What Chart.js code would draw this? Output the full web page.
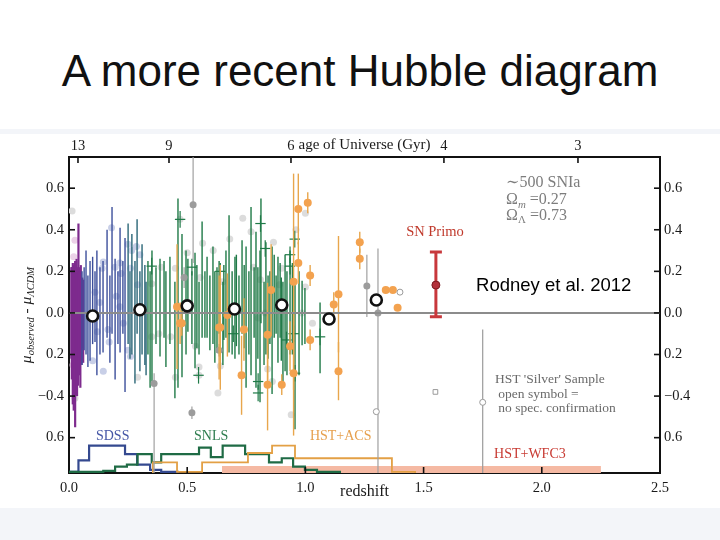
<!DOCTYPE html>
<html><head><meta charset="utf-8">
<script src="https://cdn.jsdelivr.net/npm/chart.js@4.4.1/dist/chart.umd.min.js"></script>
<style>
html,body{margin:0;padding:0;background:#fff;width:720px;height:540px;overflow:hidden;}
#band{position:absolute;left:0;top:129px;width:720px;height:411px;background:#f3f5f9;}
#panel{position:absolute;left:0;top:134px;width:720px;height:374px;background:#fff;}
#title{position:absolute;left:0;top:49px;width:720px;text-align:center;font-family:'Liberation Sans',Arial,sans-serif;font-size:44px;line-height:44px;color:#111;white-space:nowrap;}
canvas{position:absolute;left:0;top:0;}
</style></head>
<body>
<div id="band"></div><div id="panel"></div>
<div id="title">A more recent Hubble diagram</div>
<canvas id="c" width="720" height="540"></canvas>
<script>
// ---------- axes / ticks ----------
const yTickValues = [0.6, 0.4, 0.2, 0.0, -0.2, -0.4, -0.6];
const yTickLabels = ['0.6', '0.4', '0.2', '0.0', '0.2', '\u22120.4', '0.6'];
const xTickValues = [0, 0.5, 1.0, 1.5, 2.0, 2.5];
const xTickLabels = ['0.0', '0.5', '1.0', '1.5', '2.0', '2.5'];
const ageTickZ = [0.038, 0.423, 0.939, 1.586, 2.153];
const ageTickLabels = ['13', '9', '6', '4', '3'];

// ---------- data: [z, mu, err] ----------
const lowZ = [
 [0.010,0.00,0.22],[0.012,-0.05,0.27],[0.014,0.02,0.20],[0.016,-0.10,0.34],[0.018,0.05,0.18],
 [0.020,-0.12,0.35],[0.022,-0.02,0.25],[0.024,0.06,0.18],[0.026,-0.15,0.40],[0.028,0.00,0.22],
 [0.030,-0.05,0.30],[0.032,0.04,0.22],[0.034,-0.10,0.30],[0.036,0.02,0.20],[0.038,-0.08,0.27],
 [0.040,0.10,0.33],[0.042,-0.05,0.25],[0.045,0.00,0.22],[0.048,-0.10,0.26],[0.050,0.03,0.20],
 [0.053,-0.05,0.20],[0.056,0.00,0.17],[0.060,-0.04,0.20]
];
const sdssBlue = [
 [0.055,-0.025,0.225],[0.064,0.02,0.20],[0.072,0.05,0.25],[0.080,-0.04,0.22],[0.089,0.01,0.24],
 [0.100,0.06,0.21],[0.110,0.03,0.17],[0.118,0.00,0.30],[0.131,0.01,0.21],[0.144,0.03,0.22],
 [0.161,0.14,0.26],[0.173,-0.03,0.21],[0.182,0.205,0.305],[0.195,-0.03,0.29],[0.207,0.025,0.175],
 [0.216,0.11,0.30],[0.228,0.075,0.175],[0.237,-0.01,0.37]
];
const sdssTeal = [
 [0.250,0.14,0.29],[0.258,-0.01,0.21],[0.266,0.09,0.29],[0.279,-0.045,0.295],[0.288,0.175,0.275],
 [0.300,-0.04,0.24],[0.309,0.065,0.265],[0.321,-0.01,0.24],[0.326,-0.075,0.225]
];
const snls = [
 [0.334,0.025,0.225],[0.343,-0.08,0.28],[0.351,-0.015,0.315],[0.368,0.035,0.185],[0.385,0.025,0.235],
 [0.402,0.065,0.185],[0.410,-0.03,0.23],[0.427,0.06,0.21],[0.448,-0.13,0.28],[0.461,0.095,0.455],
 [0.478,0.035,0.345],[0.495,0.05,0.25],[0.503,0.085,0.175],[0.520,0.025,0.175],[0.533,0.012,0.278],
 [0.541,0.03,0.20],[0.550,-0.025,0.175],[0.563,0.16,0.28],[0.575,0.04,0.16],[0.584,0.075,0.195],
 [0.596,0.00,0.18],[0.609,0.085,0.235],[0.617,-0.02,0.22],[0.626,0.015,0.205],[0.635,0.075,0.175],
 [0.651,-0.05,0.20],[0.655,0.05,0.18],[0.664,0.09,0.21],[0.677,0.14,0.33],[0.690,0.00,0.20],
 [0.702,0.025,0.245],[0.708,0.06,0.22],[0.719,-0.01,0.19],[0.732,0.125,0.225],[0.741,0.03,0.20],
 [0.749,-0.02,0.34],[0.761,0.00,0.20],[0.770,0.105,0.405],[0.783,0.05,0.17],[0.791,0.015,0.375],
 [0.799,0.00,0.22],[0.808,-0.065,0.365],[0.812,0.25,0.30],[0.825,-0.05,0.20],[0.833,0.07,0.27],
 [0.842,-0.02,0.20],[0.850,0.025,0.175],[0.859,-0.035,0.355],[0.868,0.08,0.20],[0.876,0.04,0.14],
 [0.884,0.015,0.255],[0.893,0.06,0.18],[0.898,-0.03,0.20],[0.905,-0.10,0.25],[0.914,0.00,0.28],
 [0.922,-0.05,0.25],[0.935,0.05,0.25],[0.945,0.02,0.22],[0.956,-0.205,0.355],[0.973,-0.05,0.25],
 [0.986,0.00,0.155],[0.998,-0.015,0.135],[1.062,-0.12,0.17]
];
const snlsCross = [
 [0.350,0.225],[0.470,0.45],[0.520,0.22],[0.548,-0.30],[0.640,0.20],[0.695,-0.10],[0.800,-0.33],
 [0.800,-0.385],[0.810,0.43],[0.830,0.31],[0.920,-0.13],[0.935,0.28],[0.935,0.225],[0.955,0.355],
 [0.950,-0.10],[0.956,-0.29],[1.062,-0.115]
];
const acs = [
 [0.457,0.03,0.30],[0.470,-0.05,0.10],[0.477,-0.05,0.06],[0.635,-0.07,0.25],[0.640,-0.07,0.30],
 [0.670,-0.01,0.20],[0.730,-0.30,0.19],[0.740,-0.08,0.15],[0.840,-0.105,0.25],[0.840,-0.345,0.22],
 [0.855,0.11,0.22],[0.900,-0.345,0.05],[0.935,-0.16,0.12],[0.950,0.15,0.52],[0.950,-0.29,0.30],
 [0.970,0.50,0.17],[0.970,0.24,0.10],[1.010,0.53,0.05],[1.020,0.18,0.05],[1.020,-0.13,0.05],
 [1.120,0.04,0.06],[1.140,0.09,0.28],[1.140,-0.28,0.14],[1.230,0.34,0.05],[1.230,0.26,0.05],
 [1.340,0.11,0.00],[1.370,0.11,0.00],[1.390,0.025,0.00]
];
// [z, mu, errDown, errUp]
const grayPts = [
 [0.360,-0.34,0.45,0.05],[0.487,0.17,0.05,0.05],[0.520,-0.48,0.03,0.03],[0.525,0.52,0.28,0.30],
 [0.635,-0.18,0.03,0.03],[1.260,0.13,0.15,0.15],[1.307,0.00,0.80,0.31]
];
const silverCircles = [[1.300,-0.475,0,0],[1.400,0.10,0,0],[1.750,-0.43,0.40,0.35]];
const silverSquares = [[1.550,-0.38,0,0]];
const lightBlue = [
 [0.18,0.41],[0.25,0.33],[0.265,0.30],[0.30,0.28],[0.285,0.32],[0.145,0.245],[0.14,0.215],[0.195,0.22],
 [0.215,0.24],[0.26,0.215],[0.22,0.19],[0.12,-0.09],[0.165,-0.08],[0.17,-0.14],[0.215,0.03],[0.25,-0.18],
 [0.26,-0.21],[0.10,-0.23],[0.145,-0.28],[0.29,0.135],[0.11,0.10],[0.20,0.08],[0.23,-0.05],[0.13,0.05]
];
const lightPink = [[0.025,0.35],[0.017,-0.25],[0.020,0.27]];
const lightGray = [
 [0.013,0.49],[0.025,-0.41],[0.39,0.22],[0.35,0.14],[0.45,0.215],[0.29,-0.31],[0.35,-0.115],[0.43,-0.115],
 [0.38,-0.10],[0.45,-0.31],[0.735,0.455],[0.61,0.30],[0.68,0.355],[0.77,0.39],[0.865,0.34],[1.00,0.48],
 [0.78,0.22],[0.90,0.215],[0.565,0.335],[0.555,0.17],[0.47,0.45],[0.65,0.15],[0.81,0.16],[0.89,0.135],
 [0.50,0.29],[1.03,-0.05],[0.535,-0.16],[0.55,-0.26],[0.55,-0.30],[0.63,-0.385],[0.64,-0.255],[0.84,-0.27],
 [0.86,-0.33],[0.80,-0.025],[0.94,-0.49],[0.83,0.00],[0.96,0.40],[1.00,0.125],[0.985,0.00]
];
const binZ = [0.1, 0.3, 0.5, 0.7, 0.9, 1.1, 1.3];
const binMu = [-0.015, 0.015, 0.034, 0.019, 0.038, -0.029, 0.062];
const primo = [[1.552, 0.134, 0.153, 0.159]];

// histograms (bin edges in z, counts)
const sdssEdges = [0, 0.04, 0.085, 0.237, 0.288, 0.343, 0.39, 0.46];
const sdssCounts = [0.5, 6, 13, 9, 4, 1.5, 0.5];
const snlsEdges = [0, 0.145, 0.195, 0.245, 0.29, 0.35, 0.39, 0.55, 0.60, 0.65, 0.745, 0.846, 0.90, 0.948, 0.998, 1.049, 1.146];
const snlsCounts = [0.5, 1, 3, 4, 9, 5, 9, 12, 7.5, 13, 9, 5, 7, 3, 1.5, 0.5];
const acsEdges = [0.355, 0.457, 0.563, 0.757, 0.859, 0.956, 1.366, 1.464];
const acsCounts = [5, 0.5, 5, 9.5, 13, 7, 0.5];
const wfc3Range = [0.647, 2.25];
const wfc3Count = 3.3;

// ---------- builders ----------
const SERIF = "'Liberation Serif','DejaVu Serif',serif";
const sym = a => a.map(r => ({x: r[0], y: r[1], lo: r[1] - r[2], hi: r[1] + r[2]}));
const asym = a => a.map(r => ({x: r[0], y: r[1], lo: r[1] - r[2], hi: r[1] + r[3]}));
const xy = a => a.map(r => ({x: r[0], y: r[1]}));
const hist = (e, c) => { const p = [{x: e[0], y: 0}]; c.forEach((v, i) => p.push({x: e[i], y: v})); p.push({x: e[e.length - 1], y: 0}); return p; };

const base = {xAxisID: 'x', yAxisID: 'y', borderWidth: 0};
const datasets = [
 {...base, label: 'SN Primo', data: asym(primo), pointRadius: 4, backgroundColor: '#b3303a', borderColor: '#7a1a20', borderWidth: 1, order: 1, bars: {color: '#c8383c', width: 3, cap: 6}},
 {...base, label: 'bins', data: binZ.map((z, i) => ({x: z, y: binMu[i]})), pointRadius: 5.5, backgroundColor: '#fff', borderColor: '#111', borderWidth: 2.6, order: 2},
 {...base, label: 'silverC', data: asym(silverCircles), pointRadius: 3, backgroundColor: '#fff', borderColor: '#9a9a9a', borderWidth: 1, order: 5, bars: {color: '#9b9b9b', width: 1.2}},
 {...base, label: 'silverS', data: asym(silverSquares), pointStyle: 'rect', pointRadius: 3.3, backgroundColor: '#fff', borderColor: '#9a9a9a', borderWidth: 1, order: 5},
 {...base, type: 'line', label: 'zero', data: [{x: 0, y: 0}, {x: 2.5, y: 0}], borderColor: '#8c8c8c', borderWidth: 2, pointRadius: 0, order: 10},
 {...base, label: 'HST+ACS', data: sym(acs), pointRadius: 4, backgroundColor: '#f3a24f', order: 12, bars: {color: '#e8a64c', width: 1.4}},
 {...base, label: 'gray', data: asym(grayPts), pointRadius: 3.5, backgroundColor: '#9c9c9c', order: 14, bars: {color: '#a0a0a0', width: 1.2}},
 {...base, label: 'snlsX', data: xy(snlsCross).map(p => ({...p, lo: p.y - 0.04, hi: p.y + 0.04})), pointRadius: 0, order: 16, bars: {color: '#1f7a47', width: 1.2, xerr: 0.022}},
 {...base, label: 'SNLS', data: sym(snls), pointRadius: 0, order: 18, bars: {color: '#1f7a47', width: 1.4}},
 {...base, label: 'SDSSt', data: sym(sdssTeal), pointRadius: 0, order: 20, bars: {color: '#2a6677', width: 1.4}},
 {...base, label: 'SDSS', data: sym(sdssBlue), pointRadius: 0, order: 21, bars: {color: '#3c4f9b', width: 1.4}},
 {...base, label: 'lowz', data: sym(lowZ), pointRadius: 0, order: 22, bars: {color: '#7e2b8e', width: 2.2}},
 {...base, label: 'lgray', data: xy(lightGray), pointRadius: 3.5, backgroundColor: '#dcdcdc', order: 30},
 {...base, label: 'lblue', data: xy(lightBlue), pointRadius: 3.5, backgroundColor: '#c8cfe7', order: 30},
 {...base, label: 'lpink', data: xy(lightPink), pointRadius: 3.5, backgroundColor: '#ecd2e8', order: 30},
 {...base, type: 'line', yAxisID: 'yh', label: 'hACS', data: hist(acsEdges, acsCounts), stepped: true, borderColor: '#e3a045', borderWidth: 1.8, pointRadius: 0, order: 40},
 {...base, type: 'line', yAxisID: 'yh', label: 'hSNLS', data: hist(snlsEdges, snlsCounts), stepped: true, borderColor: '#1f6b45', borderWidth: 2.2, pointRadius: 0, order: 41},
 {...base, type: 'line', yAxisID: 'yh', label: 'hSDSS', data: hist(sdssEdges, sdssCounts), stepped: true, borderColor: '#34498f', borderWidth: 2.2, pointRadius: 0, order: 42},
 {...base, type: 'line', yAxisID: 'yh', label: 'WFC3', data: [{x: wfc3Range[0], y: wfc3Count}, {x: wfc3Range[1], y: wfc3Count}], fill: 'start', backgroundColor: '#f5b9a3', borderWidth: 0, pointRadius: 0, order: 50}
];

// ---------- text annotations (data coords) ----------
const notes = [
 {parts: [['\u223C500 SNIa']], z: 1.849, v: 0.624, color: '#7d7d7d', size: 16},
 {parts: [['\u03A9'], ['m', 'subi'], [' =0.27']], z: 1.849, v: 0.542, color: '#7d7d7d', size: 16},
 {parts: [['\u03A9'], ['\u039B', 'sub'], [' =0.73']], z: 1.849, v: 0.466, color: '#7d7d7d', size: 16},
 {parts: [['SN Primo']], z: 1.548, v: 0.389, color: '#c0392b', size: 14.5, align: 'center'},
 {parts: [['Rodney et al. 2012']], z: 1.722, v: 0.13, color: '#000', size: 18.5, family: "'Liberation Sans',Arial,sans-serif"},
 {parts: [["HST 'Silver' Sample"]], z: 1.802, v: -0.322, color: '#6a6a6a', size: 13.5},
 {parts: [[' open symbol =']], z: 1.802, v: -0.394, color: '#6a6a6a', size: 13.5},
 {parts: [[' no spec. confirmation']], z: 1.802, v: -0.461, color: '#6a6a6a', size: 13.5},
 {parts: [['HST+WFC3']], z: 1.798, v: -0.682, color: '#c83a32', size: 14},
 {parts: [['SDSS']], z: 0.114, v: -0.595, color: '#4556a6', size: 14},
 {parts: [['SNLS']], z: 0.529, v: -0.595, color: '#2e7d4f', size: 14},
 {parts: [['HST+ACS']], z: 1.019, v: -0.595, color: '#e6a04e', size: 14}
];
const yTitleParts = [['\u03BC', 'i'], ['observed', 'subi'], [' - '], ['\u03BC', 'i'], ['\u039BCDM', 'subi']];

function richText(ctx, parts, x, y, size, color, align, family) {
  family = family || SERIF;
  let w = 0;
  const f = parts.map(p => {
    const t = p[1] || '';
    const s = t.startsWith('sub') ? size * 0.68 : size;
    const font = (t === 'i' || t === 'subi' ? 'italic ' : '') + s + 'px ' + family;
    ctx.font = font;
    const mw = ctx.measureText(p[0]).width;
    w += mw;
    return {font, mw, dy: t.startsWith('sub') ? size * 0.28 : 0};
  });
  let cx = align === 'center' ? x - w / 2 : align === 'right' ? x - w : x;
  ctx.fillStyle = color; ctx.textBaseline = 'middle'; ctx.textAlign = 'left';
  parts.forEach((p, i) => { ctx.font = f[i].font; ctx.fillText(p[0], cx, y + f[i].dy); cx += f[i].mw; });
}

const errorBars = {
  id: 'errorBars',
  beforeDatasetDraw(chart, args) {
    const ds = chart.data.datasets[args.index];
    if (!ds.bars) return;
    const {ctx, chartArea: a, scales} = chart;
    const xs = scales.x, ys = scales.y, b = ds.bars;
    ctx.save();
    ctx.beginPath(); ctx.rect(a.left, a.top, a.right - a.left, a.bottom - a.top); ctx.clip();
    ctx.strokeStyle = b.color; ctx.lineWidth = b.width; ctx.lineCap = 'butt';
    ds.data.forEach(p => {
      const px = xs.getPixelForValue(p.x);
      if (p.hi > p.lo) {
        const y1 = ys.getPixelForValue(p.lo), y2 = ys.getPixelForValue(p.hi);
        ctx.beginPath(); ctx.moveTo(px, y1); ctx.lineTo(px, y2); ctx.stroke();
        if (b.cap) {
          ctx.beginPath(); ctx.moveTo(px - b.cap, y1); ctx.lineTo(px + b.cap, y1);
          ctx.moveTo(px - b.cap, y2); ctx.lineTo(px + b.cap, y2); ctx.stroke();
        }
      }
      if (b.xerr) {
        const py = ys.getPixelForValue(p.y);
        ctx.beginPath(); ctx.moveTo(xs.getPixelForValue(p.x - b.xerr), py); ctx.lineTo(xs.getPixelForValue(p.x + b.xerr), py); ctx.stroke();
      }
    });
    ctx.restore();
  }
};

const decorations = {
  id: 'decorations',
  afterDraw(chart) {
    const {ctx, chartArea: a, scales} = chart;
    ctx.save();
    ctx.strokeStyle = '#111'; ctx.lineWidth = 1.6;
    const L = 6;
    [['x', 'b'], ['xt', 't'], ['y', 'l'], ['yr', 'r']].forEach(([id, side]) => {
      const s = scales[id];
      s.ticks.forEach(t => {
        const p = s.getPixelForValue(t.value);
        ctx.beginPath();
        if (side === 'b') { if (p <= a.left + 1 || p >= a.right - 1) return; ctx.moveTo(p, a.bottom); ctx.lineTo(p, a.bottom - L); }
        if (side === 't') { ctx.moveTo(p, a.top); ctx.lineTo(p, a.top + L); }
        if (side === 'l') { ctx.moveTo(a.left, p); ctx.lineTo(a.left + L, p); }
        if (side === 'r') { ctx.moveTo(a.right, p); ctx.lineTo(a.right - L, p); }
        ctx.stroke();
      });
    });
    ctx.restore();
    notes.forEach(n => {
      ctx.save();
      richText(ctx, n.parts, scales.x.getPixelForValue(n.z), scales.y.getPixelForValue(n.v), n.size, n.color, n.align || 'left', n.family);
      ctx.restore();
    });
    ctx.save();
    ctx.translate(27, (a.top + a.bottom) / 2);
    ctx.rotate(-Math.PI / 2);
    richText(ctx, yTitleParts, 0, 0, 15.5, '#222', 'center');
    ctx.restore();
  }
};

const tickFont = {family: SERIF, size: 14.5};
const setTicks = vals => s => { s.ticks = vals.map(v => ({value: v})); };
const labelFor = (vals, labels) => v => { const i = vals.findIndex(q => Math.abs(q - v) < 1e-6); return i < 0 ? '' : labels[i]; };
const commonY = {
  type: 'linear', min: -0.77, max: 0.75,
  afterBuildTicks: setTicks(yTickValues),
  grid: {display: false, drawTicks: false},
  border: {display: true, color: '#111', width: 2},
  ticks: {color: '#1a1a1a', font: tickFont, autoSkip: false, callback: labelFor(yTickValues, yTickLabels)}
};

Chart.defaults.font.family = SERIF;
new Chart(document.getElementById('c'), {
  type: 'scatter',
  data: {datasets},
  options: {
    responsive: false, animation: false, events: [],
    devicePixelRatio: 1,
    layout: {padding: 0},
    plugins: {legend: {display: false}, tooltip: {enabled: false}},
    scales: {
      x: {type: 'linear', position: 'bottom', min: 0, max: 2.5,
        afterBuildTicks: setTicks(xTickValues), afterFit: s => { s.height = 67; },
        grid: {display: false, drawTicks: false}, border: {display: true, color: '#111', width: 2},
        ticks: {padding: 6, color: '#1a1a1a', font: tickFont, maxRotation: 0, autoSkip: false, callback: labelFor(xTickValues, xTickLabels)},
        title: {display: true, text: 'redshift', color: '#1a1a1a', font: {family: SERIF, size: 16}, padding: {top: 0, bottom: 39}}},
      xt: {type: 'linear', position: 'top', min: 0, max: 2.5,
        afterBuildTicks: setTicks(ageTickZ), afterFit: s => { s.height = 157; },
        grid: {display: false, drawTicks: false}, border: {display: true, color: '#111', width: 2},
        ticks: {padding: 2, color: '#1a1a1a', font: tickFont, maxRotation: 0, autoSkip: false, callback: labelFor(ageTickZ, ageTickLabels)},
        title: {display: true, text: 'age of Universe (Gyr)', color: '#1a1a1a', font: {family: SERIF, size: 15}, padding: {top: 136, bottom: 0}}},
      y: {...commonY, position: 'left', afterFit: s => { s.width = 69; }, ticks: {...commonY.ticks, padding: 5}},
      yr: {...commonY, position: 'right', afterFit: s => { s.width = 60; }, ticks: {...commonY.ticks, padding: 4}},
      yh: {type: 'linear', display: false, min: 0, max: 150}
    }
  },
  plugins: [errorBars, decorations]
});
</script>
</body></html>
